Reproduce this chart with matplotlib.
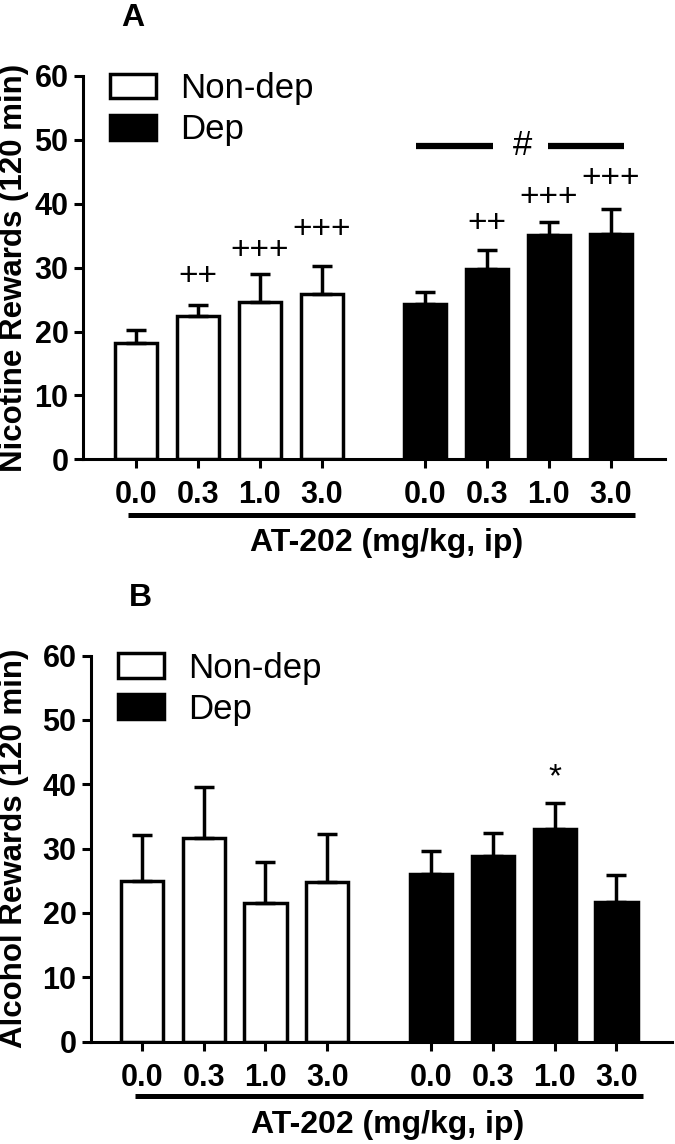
import matplotlib
matplotlib.use("Agg")

import matplotlib.pyplot as plt
import matplotlib.transforms as mtransforms

plt.rcParams["font.family"] = ["Liberation Sans", "DejaVu Sans"]

# ---- data ------------------------------------------------------------------
doses = ["0.0", "0.3", "1.0", "3.0"]
groups = ["Non-dep", "Dep"]

nic_nondep = [18.2, 22.4, 24.7, 25.8]
nic_nondep_sem = [2.1, 1.8, 4.3, 4.5]
nic_dep = [24.3, 29.8, 35.1, 35.2]
nic_dep_sem = [1.9, 2.9, 2.0, 4.0]
nic_marks = ["", "++", "+++", "+++", "", "++", "+++", "+++"]
nic_mark_y = [0, 28.6, 32.7, 36.0, 0, 36.9, 41.0, 43.9]

alc_nondep = [24.9, 31.6, 21.6, 24.8]
alc_nondep_sem = [7.2, 8.0, 6.3, 7.5]
alc_dep = [26.0, 28.9, 33.1, 21.7]
alc_dep_sem = [3.7, 3.6, 4.0, 4.2]
alc_marks = ["", "", "", "", "", "", "*", ""]
alc_mark_y = [0, 0, 0, 0, 0, 0, 41.0, 0]

# bar positions: two groups of four with a gap
pos = [0, 1, 2, 3, 4.67, 5.67, 6.67, 7.67]
WIDTH = 0.68
LW = 2.5


def panel(ax, nondep, nondep_sem, dep, dep_sem, marks, mark_y, ylabel,
          xlim, ylab_x, line_y, xlab_pos, hash_line=False):
    b1 = ax.bar(pos[:4], nondep, WIDTH, color="white", edgecolor="black",
                linewidth=LW, label=groups[0], zorder=2)
    b2 = ax.bar(pos[4:], dep, WIDTH, color="black", edgecolor="black",
                linewidth=LW, label=groups[1], zorder=2)
    ax.errorbar(pos, nondep + dep, yerr=[[0] * 8, nondep_sem + dep_sem],
                fmt="none", ecolor="black", elinewidth=LW, capsize=7.5,
                capthick=LW, zorder=3)

    for x, m, y in zip(pos, marks, mark_y):
        if m:
            ax.text(x, y, m, ha="center", va="center", fontsize=24)

    if hash_line:
        ax.plot([4.52, 5.76], [49.1, 49.1], color="black", lw=4.5,
                solid_capstyle="butt")
        ax.plot([6.65, 7.88], [49.1, 49.1], color="black", lw=4.5,
                solid_capstyle="butt")
        ax.text(6.24, 49.1, "#", ha="center", va="center", fontsize=25)

    ax.set_xlim(*xlim)
    ax.set_ylim(0, 60)
    ax.set_yticks(range(0, 61, 10))
    ax.set_xticks(pos)
    ax.set_xticklabels(doses * 2)
    for side in ("top", "right"):
        ax.spines[side].set_visible(False)
    for side in ("left", "bottom"):
        ax.spines[side].set_linewidth(2.2)
    ax.tick_params(direction="out", length=6.5, width=2.2, labelsize=22)
    ax.tick_params(axis="y", pad=4)
    ax.tick_params(axis="x", pad=8.5)
    for lab in ax.get_xticklabels() + ax.get_yticklabels():
        lab.set_fontweight("bold")

    ax.set_ylabel(ylabel, fontsize=22.5, fontweight="bold", va="center")
    ax.yaxis.set_label_coords(ylab_x, 0.5)

    # dose underline + group axis title
    trans = mtransforms.blended_transform_factory(ax.transData, ax.transAxes)
    ax.plot(line_y[0], [line_y[1]] * 2, transform=trans, color="black",
            lw=3.6, clip_on=False, solid_capstyle="butt")
    ax.text(xlab_pos[0], xlab_pos[1], "AT-202 (mg/kg, ip)", transform=ax.transAxes,
            ha="center", va="center", fontsize=23, fontweight="bold")

    ax.legend(handles=[b1, b2], loc="upper left", bbox_to_anchor=(0.046, 1.01),
              frameon=False, fontsize=25, handlelength=1.33, handleheight=0.72,
              handletextpad=0.7, labelspacing=0.24, borderpad=0,
              borderaxespad=0)


fig = plt.figure(figsize=(6.75, 11.44), dpi=100)

ax_a = fig.add_axes([0.1230, 0.5985, 0.8622, 0.3351])
panel(ax_a, nic_nondep, nic_nondep_sem, nic_dep, nic_dep_sem, nic_marks,
      nic_mark_y, "Nicotine Rewards (120 min)", (-0.856, 8.546), -0.118,
      ([-0.13, 8.06], -0.1453), (0.522, -0.2184), hash_line=True)

ax_b = fig.add_axes([0.1348, 0.0894, 0.8603, 0.3376])
panel(ax_b, alc_nondep, alc_nondep_sem, alc_dep, alc_dep_sem, alc_marks,
      alc_mark_y, "Alcohol Rewards (120 min)", (-0.819, 8.562), -0.133,
      ([-0.11, 8.10], -0.1406), (0.511, -0.2157))

fig.text(133 / 675, 1 - 18 / 1144, "A", ha="center", va="center", fontsize=23,
         fontweight="bold")
fig.text(140 / 675, 1 - 598 / 1144, "B", ha="center", va="center", fontsize=23,
         fontweight="bold")

fig.savefig("out.png", dpi=100)
